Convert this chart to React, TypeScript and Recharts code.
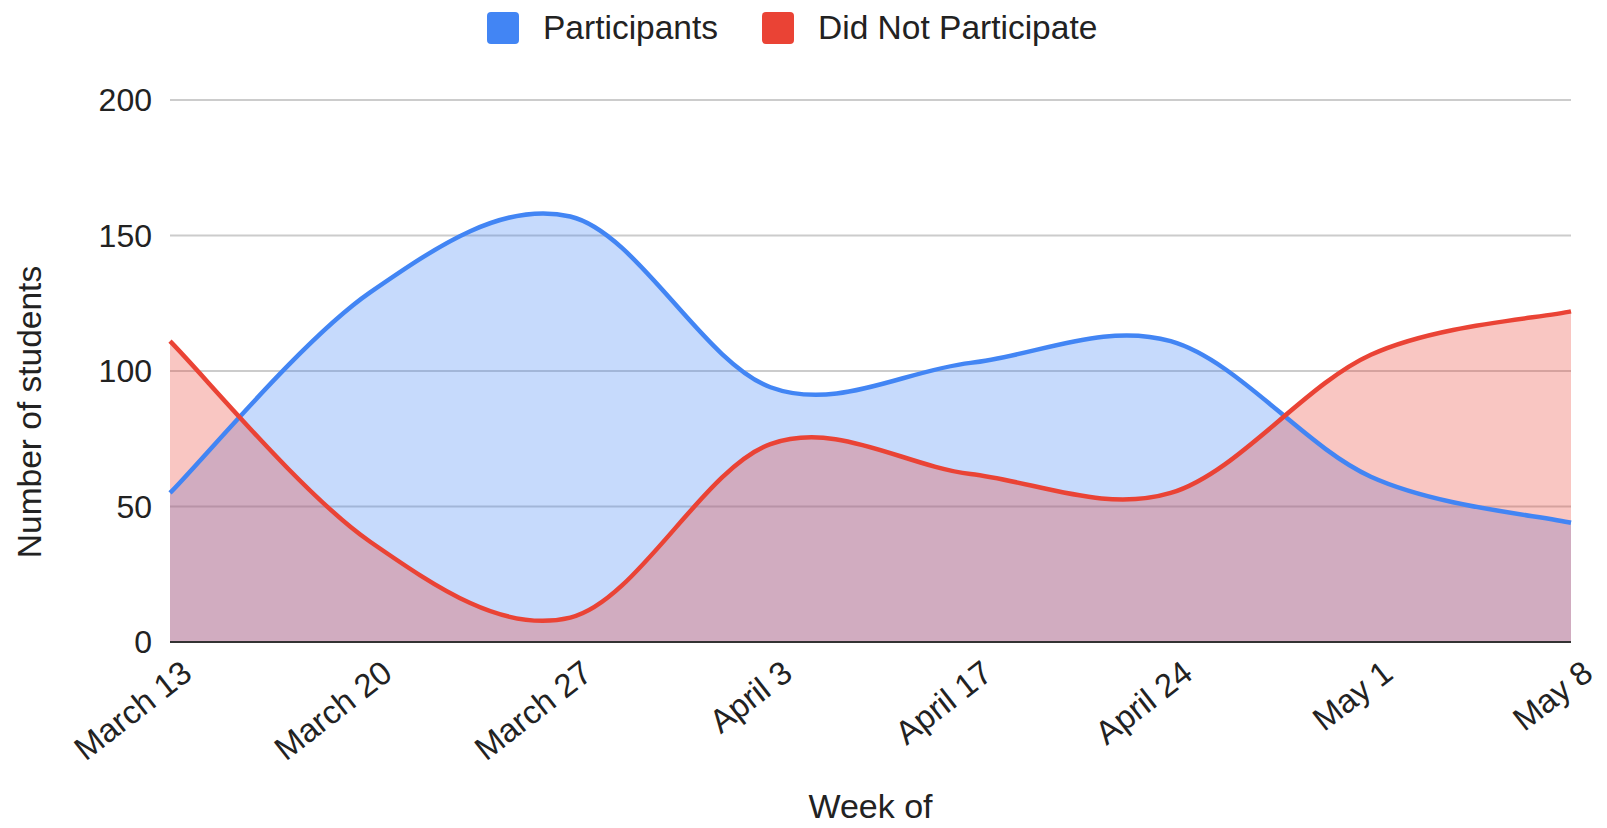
import React from 'react';
import { ComposedChart, Area, Line, XAxis, YAxis, CartesianGrid, Legend } from 'recharts';

const weeks = ['March 13', 'March 20', 'March 27', 'April 3', 'April 17', 'April 24', 'May 1', 'May 8'];
const participants = [55, 129, 157, 94, 103, 111, 61, 44];
const didNotParticipate = [111, 37, 9, 73, 62, 55, 106, 122];
const yTicks = [0, 50, 100, 150, 200];

const data = weeks.map((week, i) => ({
  week,
  participants: participants[i],
  didNot: didNotParticipate[i],
}));

const BLUE = '#4285F4';
const RED = '#EA4335';
const TEXT = '#222222';
const FONT = '"Liberation Sans", Arial, sans-serif';

// Catmull-Rom (cardinal, tension 0) curve, close to the smoothing Google Sheets draws.
// Follows the d3 curve interface so recharts can use it as `type`.
function smoothCurve(context: any) {
  let line = NaN;
  let pts: number[][] = [];
  return {
    areaStart() { line = 0; },
    areaEnd() { line = NaN; },
    lineStart() { pts = []; },
    lineEnd() {
      const n = pts.length;
      if (n) {
        if (line) context.lineTo(pts[0][0], pts[0][1]);
        else context.moveTo(pts[0][0], pts[0][1]);
        const k = 1 / 6;
        for (let i = 0; i < n - 1; i++) {
          const p0 = pts[Math.max(i - 1, 0)];
          const p1 = pts[i];
          const p2 = pts[i + 1];
          const p3 = pts[Math.min(i + 2, n - 1)];
          context.bezierCurveTo(
            p1[0] + k * (p2[0] - p0[0]), p1[1] + k * (p2[1] - p0[1]),
            p2[0] - k * (p3[0] - p1[0]), p2[1] - k * (p3[1] - p1[1]),
            p2[0], p2[1],
          );
        }
      }
      if (line || (line !== 0 && n === 1)) context.closePath();
      line = 1 - line;
    },
    point(x: number, y: number) { pts.push([+x, +y]); },
  };
}

const renderLegend = () => (
  <div style={{ display: 'flex', alignItems: 'center', marginLeft: 487, height: 32, fontFamily: FONT, fontSize: 33.5, color: TEXT, lineHeight: 1 }}>
    <span style={{ display: 'inline-block', width: 32, height: 32, background: BLUE, borderRadius: 4, marginRight: 24 }} />
    <span style={{ marginRight: 44 }}>Participants</span>
    <span style={{ display: 'inline-block', width: 32, height: 32, background: RED, borderRadius: 4, marginRight: 24 }} />
    <span>Did Not Participate</span>
  </div>
);

const WeekTick = (props: any) => {
  const { x, y, payload } = props;
  const tx = x + 24;
  const ty = y + 35;
  return (
    <text x={tx} y={ty} transform={`rotate(-38 ${tx} ${ty})`} textAnchor="end" fill={TEXT} fontSize={33} fontFamily={FONT}>
      {payload.value}
    </text>
  );
};

const xTitle = (props: any) => {
  const vb = props.viewBox;
  return (
    <text x={vb.x + vb.width / 2} y={818} textAnchor="middle" fill={TEXT} fontSize={34} fontFamily={FONT}>
      Week of
    </text>
  );
};

const yTitle = () => (
  <text x={41} y={412} transform="rotate(-90 41 412)" textAnchor="middle" fill={TEXT} fontSize={33.5} fontFamily={FONT}>
    Number of students
  </text>
);

export default function App() {
  return (
    <div style={{ position: 'absolute', left: 0, top: 0, background: '#fff' }}>
      <ComposedChart width={1607} height={828} data={data} margin={{ top: 100, right: 36, bottom: 0, left: 0 }} style={{ fontFamily: FONT }}>
        <CartesianGrid vertical={false} stroke="#cccccc" strokeWidth={2} />
        <Legend verticalAlign="top" content={renderLegend} wrapperStyle={{ top: 12, left: 0, width: 1607, height: 0 }} />
        <Area dataKey="participants" type={smoothCurve as any} fill={BLUE} fillOpacity={0.3} stroke="none" dot={false} activeDot={false} isAnimationActive={false} />
        <Area dataKey="didNot" type={smoothCurve as any} fill={RED} fillOpacity={0.3} stroke="none" dot={false} activeDot={false} isAnimationActive={false} />
        <Line dataKey="participants" name="Participants" type={smoothCurve as any} stroke={BLUE} strokeWidth={4.5} dot={false} activeDot={false} isAnimationActive={false} />
        <Line dataKey="didNot" name="Did Not Participate" type={smoothCurve as any} stroke={RED} strokeWidth={4.5} dot={false} activeDot={false} isAnimationActive={false} />
        <XAxis
          dataKey="week"
          scale="point"
          padding={{ left: 0, right: 0 }}
          interval={0}
          height={186}
          tickLine={false}
          tickSize={0}
          tickMargin={0}
          axisLine={{ stroke: '#333333', strokeWidth: 2 }}
          tick={<WeekTick />}
          label={xTitle}
        />
        <YAxis
          domain={[0, 200]}
          ticks={yTicks}
          interval={0}
          width={170}
          axisLine={false}
          tickLine={false}
          tickSize={0}
          tickMargin={18}
          tick={{ fill: TEXT, fontSize: 32, fontFamily: FONT }}
          label={yTitle}
        />
      </ComposedChart>
    </div>
  );
}
